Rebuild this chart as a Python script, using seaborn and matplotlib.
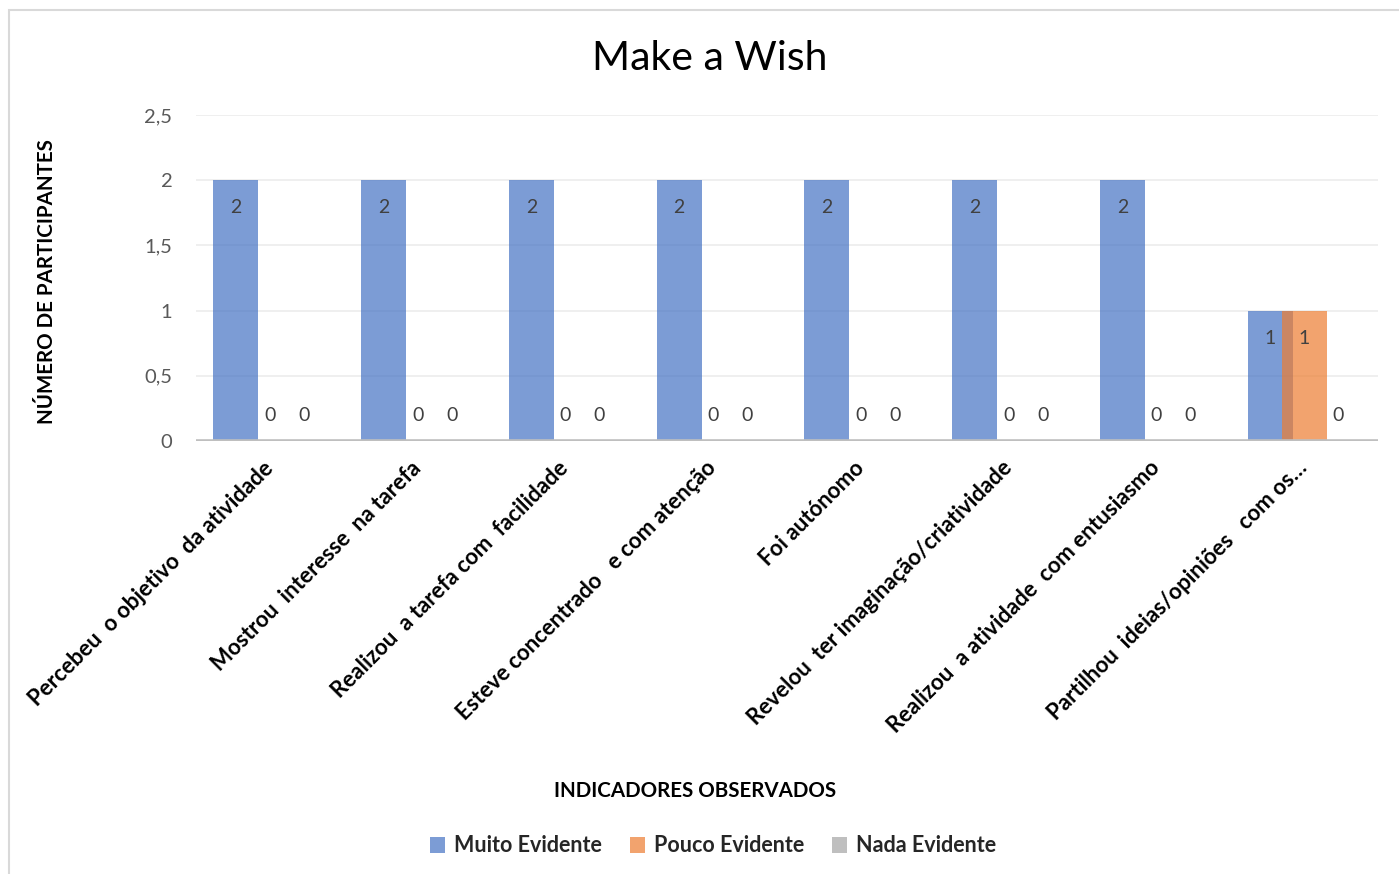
import matplotlib
matplotlib.use("Agg")
import matplotlib.pyplot as plt
import seaborn as sns
import pandas as pd
from matplotlib.patches import Patch, Rectangle
from matplotlib.ticker import FuncFormatter

categories = [
    "Percebeu  o objetivo  da atividade",
    "Mostrou  interesse  na tarefa",
    "Realizou  a tarefa com  facilidade",
    "Esteve concentrado   e com atenção",
    "Foi autónomo",
    "Revelou  ter imaginação/criatividade",
    "Realizou  a atividade  com entusiasmo",
    "Partilhou  ideias/opiniões   com os…",
]
series_names = ["Muito Evidente", "Pouco Evidente", "Nada Evidente"]
muito = [2, 2, 2, 2, 2, 2, 2, 1]
pouco = [0, 0, 0, 0, 0, 0, 0, 1]
nada = [0, 0, 0, 0, 0, 0, 0, 0]
yticks = [0, 0.5, 1, 1.5, 2, 2.5]

base_colors = ["#4472C4", "#ED7D31", "#A5A5A5"]
ALPHA = 0.7

rows = []
for s, vals in zip(series_names, [muito, pouco, nada]):
    for c, v in zip(categories, vals):
        rows.append({"cat": c, "series": s, "val": v})
df = pd.DataFrame(rows)

sns.set_theme(style="white")
plt.rcParams["font.family"] = ["Lato", "DejaVu Sans"]

fig = plt.figure(figsize=(13.99, 8.74), dpi=100)
ax = fig.add_axes([196 / 1399, 1 - 441 / 874, (1378 - 196) / 1399, (441 - 115) / 874])

sns.barplot(data=df, x="cat", y="val", hue="series", order=categories,
            hue_order=series_names, palette=base_colors, dodge=True,
            width=0.69, alpha=ALPHA, errorbar=None, legend=False,
            saturation=1, linewidth=0, ax=ax)

# widen bars so adjacent series overlap slightly (Excel-like)
bw = 0.305
for p in ax.patches:
    cx = p.get_x() + p.get_width() / 2
    p.set_x(cx - bw / 2)
    p.set_width(bw)

# data labels
for container in ax.containers:
    for p in container:
        cx = p.get_x() + p.get_width() / 2
        h = p.get_height()
        off = -20 if h > 0 else 18.5
        ax.annotate(f"{h:g}", (cx, h), xytext=(0, off), textcoords="offset points",
                    ha="center", va="center", fontsize=14, color="#404040")

ax.set_ylim(0, 2.5)
ax.set_xlim(-0.5, len(categories) - 0.5)
ax.set_yticks(yticks)
ax.yaxis.set_major_formatter(FuncFormatter(lambda v, _: f"{v:g}".replace(".", ",")))
ax.tick_params(axis="y", labelsize=14.5, colors="#595959", length=0, pad=17)
ax.grid(axis="y", color="#ECECEC", linewidth=1.2)
ax.set_axisbelow(True)
for s in ax.spines.values():
    s.set_visible(False)
ax.axhline(0, color="#BFBFBF", linewidth=2.6, zorder=5)

ax.set_xticks(range(len(categories)))
ax.set_xticklabels(categories, rotation=45, ha="right", va="center",
                   rotation_mode="anchor", fontsize=16, fontweight="bold",
                   color="black")
ax.tick_params(axis="x", length=0, pad=17)
ax.set_xlabel("")
ax.set_ylabel("NÚMERO DE PARTICIPANTES", fontsize=14.8, fontweight="bold", color="black")
ax.yaxis.set_label_coords((57 - 196) / 1182, 0.49)

fig.text(710 / 1399, 1 - 58 / 874, "Make a Wish", ha="center", va="center",
         fontsize=29.5, color="black")
fig.text(695 / 1399, 1 - 791 / 874, "INDICADORES OBSERVADOS", ha="center",
         va="center", fontsize=14.8, fontweight="bold", color="black")

handles = [Patch(facecolor=c, alpha=ALPHA, edgecolor="none") for c in base_colors]
fig.legend(handles, series_names, loc="center", bbox_to_anchor=(713 / 1399, 1 - 846 / 874),
           ncol=3, frameon=False, prop={"size": 15.5, "weight": "bold"},
           handlelength=0.7, handleheight=0.7, handletextpad=0.4, columnspacing=1.3)

fig.add_artist(Rectangle((9 / 1399, -0.1), 1.1, 1.1 - 10 / 874,
                         transform=fig.transFigure, fill=False,
                         edgecolor="#D9D9D9", linewidth=1.5, clip_on=False))

fig.savefig("out.png", dpi=100, facecolor="white")
